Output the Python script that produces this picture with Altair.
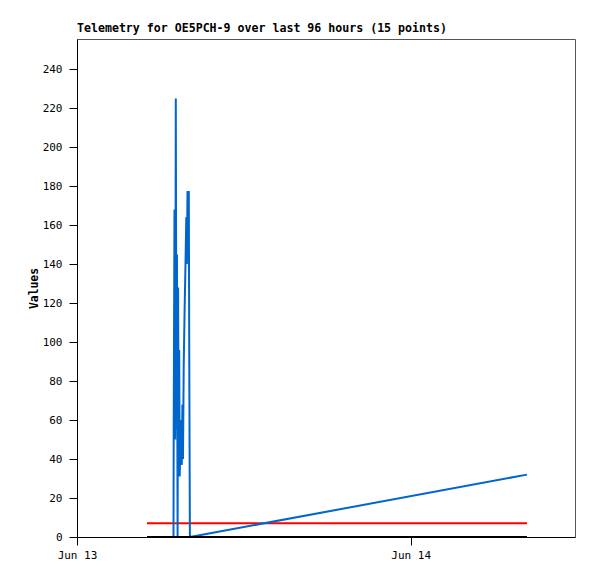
import altair as alt
import pandas as pd

# Blue telemetry series
blue_times = [
    "2024-06-13T05:02:03", "2024-06-13T06:56:24", "2024-06-13T06:57:16", "2024-06-13T07:00:43",
    "2024-06-13T07:03:44", "2024-06-13T07:06:19", "2024-06-13T07:09:20", "2024-06-13T07:11:30",
    "2024-06-13T07:14:05", "2024-06-13T07:16:15", "2024-06-13T07:18:50", "2024-06-13T07:21:00",
    "2024-06-13T07:23:09", "2024-06-13T07:26:10", "2024-06-13T07:29:37", "2024-06-13T07:32:13",
    "2024-06-13T07:34:48", "2024-06-13T07:37:23", "2024-06-13T07:40:25", "2024-06-13T07:44:17",
    "2024-06-13T07:48:11", "2024-06-13T07:51:38", "2024-06-13T07:54:13", "2024-06-13T07:56:49",
    "2024-06-13T08:02:25", "2024-06-13T08:04:34", "2024-06-13T08:07:10", "2024-06-14T08:21:45",
]
blue_values = [
    0, 0, 56, 168,
    50, 225, 55, 145,
    0, 128, 35, 96,
    31, 47, 60, 37,
    68, 40, 87, 116,
    140, 164, 140, 177,
    177, 88, 0, 32,
]

# Constant series
flat_times = ["2024-06-13T05:02:03", "2024-06-14T08:21:45"]
red_values = [7, 7]
black_values = [0, 0]

y_ticks = [0, 20, 40, 60, 80, 100, 120, 140, 160, 180, 200, 220, 240]

blue_df = pd.DataFrame({"time": blue_times, "value": blue_values})
red_df = pd.DataFrame({"time": flat_times, "value": red_values})
black_df = pd.DataFrame({"time": flat_times, "value": black_values})

x_scale = alt.Scale(domain=[
    alt.DateTime(year=2024, month=6, date=13, hours=0, minutes=0),
    alt.DateTime(year=2024, month=6, date=14, hours=11, minutes=49),
])
y_scale = alt.Scale(domain=[0, 255.5], nice=False, zero=False)

x_axis = alt.Axis(
    values=[alt.DateTime(year=2024, month=6, date=13), alt.DateTime(year=2024, month=6, date=14)],
    format="%b %d", title=None, labelPadding=4, grid=False, labelFlush=False,
)
y_axis = alt.Axis(values=y_ticks, title="Values", labelPadding=7, titlePadding=3, grid=False)

def layer(df, color):
    return alt.Chart(df).mark_line(color=color, strokeWidth=2, interpolate="linear").encode(
        x=alt.X("time:T", scale=x_scale, axis=x_axis),
        y=alt.Y("value:Q", scale=y_scale, axis=y_axis),
    )

chart = alt.layer(
    layer(red_df, "#ff0000"),
    layer(blue_df, "#0066cc"),
    layer(black_df, "#000000"),
).properties(
    width=498,
    height=498,
    autosize="none",
    padding={"left": 69, "top": 31, "right": 14, "bottom": 32},
    title=alt.TitleParams(
        "Telemetry for OE5PCH-9 over last 96 hours (15 points)",
        anchor="start", frame="group", font="DejaVu Sans Mono", fontSize=11.6, fontWeight="bold",
        color="black", offset=4,
    ),
).configure(
    background="white",
).configure_view(
    stroke="#555555", strokeWidth=1,
).configure_axis(
    grid=False, domainColor="black", domainWidth=1, tickColor="black", tickSize=8,
    labelFont="DejaVu Sans Mono", labelFontSize=11, labelColor="black",
    titleFont="DejaVu Sans Mono", titleFontSize=11.4, titleFontWeight="bold", titleColor="black",
)

chart.save("out.html", embed_options={"renderer": "svg", "actions": False})
